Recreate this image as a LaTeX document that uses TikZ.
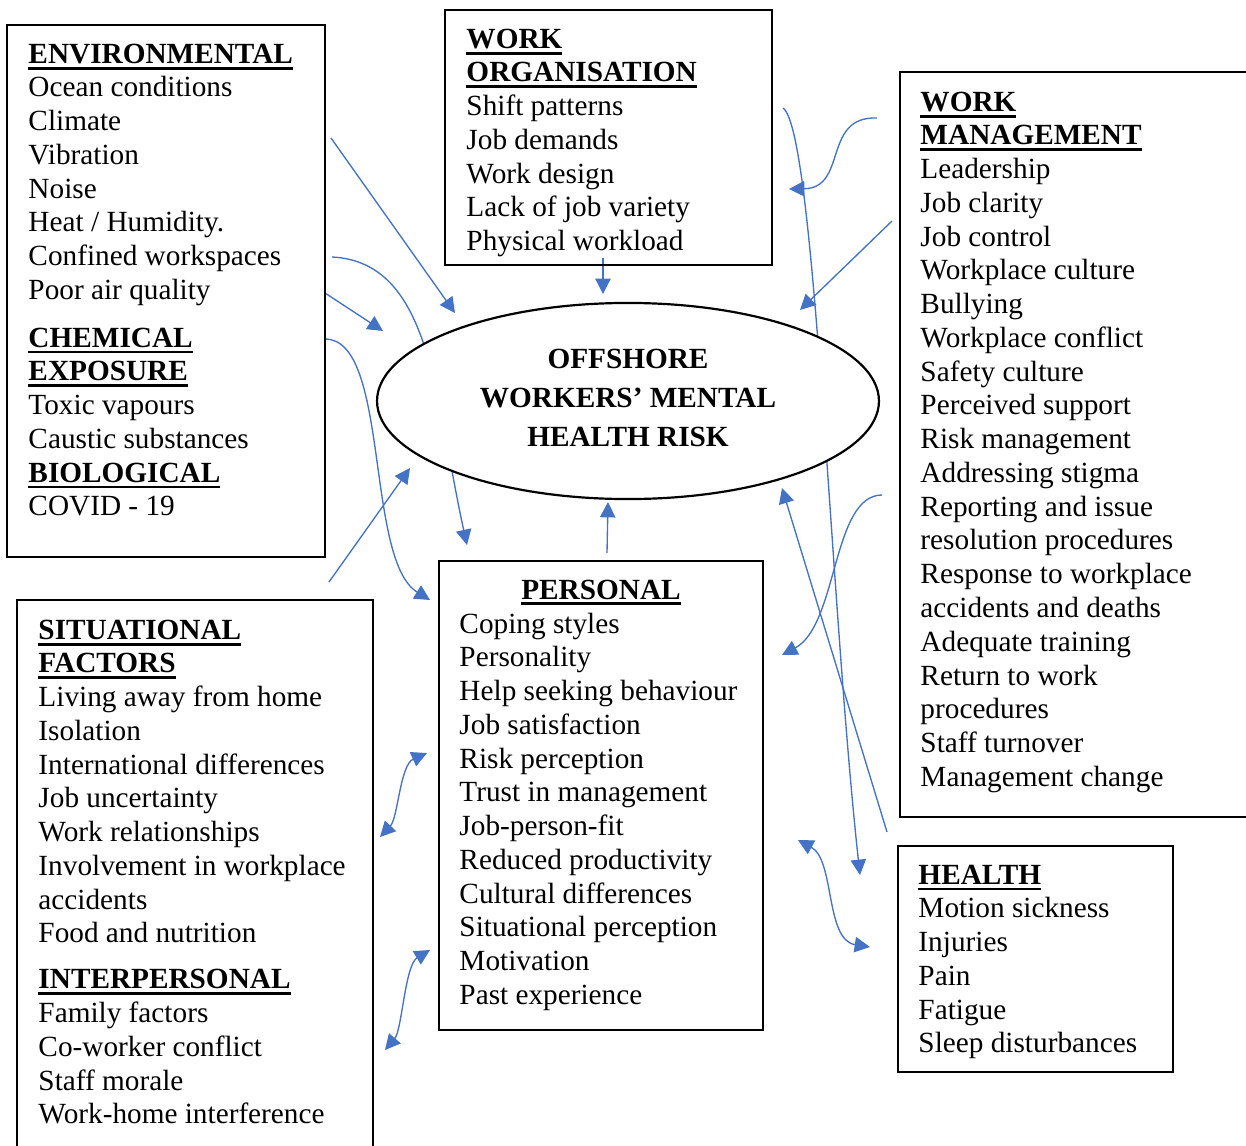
\documentclass[tikz,border=0pt]{standalone}
\usepackage{fontspec}
\setmainfont{Liberation Serif}
\usepackage{tikz}
\usetikzlibrary{arrows.meta}
\usetikzlibrary{shapes.geometric}
\usetikzlibrary{fit}
\usetikzlibrary{backgrounds}
\definecolor{linkblue}{HTML}{4472C4}
\newsavebox{\headbox}
\newcommand{\factorhead}[1]{\sbox{\headbox}{\textbf{#1}}%
  \rlap{\rule[-2.6pt]{\wd\headbox}{1.2pt}}\usebox{\headbox}}
\tikzset{
  factorbox/.style = {rectangle, draw=black, line width=0.8pt, inner sep=0pt},% box round a group
  factortext/.style = {align=left, inner sep=0pt, anchor=north west,
    font=\fontsize{12}{13.84}\selectfont},% list of factors
  riskellipse/.style = {ellipse, draw=black, line width=0.9pt, fill=white,
    inner sep=0pt, minimum width=205.8pt, minimum height=80.4pt, align=center,
    font=\bfseries\fontsize{12}{15.8}\selectfont},% the centre
  link/.style = {linkblue, line width=0.55pt, -{Triangle[length=6.3pt,width=6.3pt]}},
  twolink/.style = {link, {Triangle[length=6.3pt,width=6.3pt]}-{Triangle[length=6.3pt,width=6.3pt]}}
}

\begin{document}
\begin{tikzpicture}[x=0.41pt,y=-0.41pt]
\useasboundingbox (0,0) rectangle (1246,1146);

% boxes
\node [factorbox, fit={(7,25) (325,557)}] (env) {};
\node [factorbox, fit={(445,10) (772,265)}] (worg) {};
\node [factorbox, fit={(900,72) (1248,817)}] (wman) {};
\node [factorbox, fit={(439,561) (763,1030)}] (pers) {};
\node [factorbox, fit={(17,600) (373,1160)}] (sit) {};
\node [factorbox, fit={(898,846) (1173,1072)}] (health) {};
\node [riskellipse] (risk) at (628,401) {OFFSHORE\\WORKERS’ MENTAL\\HEALTH RISK\vphantom{g}};

% texts
\node [factortext] (envtext) at (28,43.3) {\factorhead{ENVIRONMENTAL}\\
  Ocean conditions\\ Climate\\ Vibration\\ Noise\\ Heat / Humidity.\\
  Confined workspaces\\ Poor air quality\\[5.7pt]
  \factorhead{CHEMICAL}\\ \factorhead{EXPOSURE}\\
  Toxic vapours\\ Caustic substances\\
  \factorhead{BIOLOGICAL}\\ COVID - 19};
\node [factortext] (worgtext) at (466,28.3) {\factorhead{WORK}\\
  \factorhead{ORGANISATION}\\
  Shift patterns\\ Job demands\\ Work design\\ Lack of job variety\\
  Physical workload};
\node [factortext] (wmantext) at (920,91.3) {\factorhead{WORK}\\
  \factorhead{MANAGEMENT}\\
  Leadership\\ Job clarity\\ Job control\\ Workplace culture\\ Bullying\\
  Workplace conflict\\ Safety culture\\ Perceived support\\
  Risk management\\ Addressing stigma\\ Reporting and issue\\
  resolution procedures\\ Response to workplace\\ accidents and deaths\\
  Adequate training\\ Return to work\\ procedures\\ Staff turnover\\
  Management change};
\node [factortext, anchor=base] (pershead) at (601,599) {\factorhead{PERSONAL}};
\node [factortext] (perstext) at (459,612.2) {Coping styles\\ Personality\\
  Help seeking behaviour\\ Job satisfaction\\ Risk perception\\
  Trust in management\\ Job-person-fit\\ Reduced productivity\\
  Cultural differences\\ Situational perception\\ Motivation\\
  Past experience};
\node [factortext] (sittext) at (38,619.3) {\factorhead{SITUATIONAL}\\
  \factorhead{FACTORS}\\
  Living away from home\\ Isolation\\ International differences\\
  Job uncertainty\\ Work relationships\\ Involvement in workplace\\
  accidents\\ Food and nutrition\\[5pt]
  \factorhead{INTERPERSONAL}\\
  Family factors\\ Co-worker conflict\\ Staff morale\\
  Work-home interference};
\node [factortext] (healthtext) at (918,864.3) {\factorhead{HEALTH}\\
  Motion sickness\\ Injuries\\ Pain\\ Fatigue\\ Sleep disturbances};

% ends of the links
\coordinate (envA) at (331,138);   \coordinate (riskA) at (455,313);
\coordinate (envB) at (332,257);   \coordinate (persA) at (467,545);
\coordinate (envC) at (325,293);   \coordinate (riskB) at (383,331);
\coordinate (envD) at (325,339);   \coordinate (persB) at (430,600);
\coordinate (sitA) at (329,582);   \coordinate (riskC) at (410,468);
\coordinate (worgA) at (603,258);  \coordinate (riskD) at (603,294);
\coordinate (persC) at (607,553);  \coordinate (riskE) at (608,502);
\coordinate (worgB) at (783,108);  \coordinate (healthA) at (860,875);
\coordinate (wmanA) at (877,118);  \coordinate (worgC) at (789,189);
\coordinate (wmanB) at (892,221);  \coordinate (riskF) at (800,310);
\coordinate (wmanC) at (887,832);  \coordinate (riskG) at (782,488);
\coordinate (wmanD) at (882,495);  \coordinate (persD) at (782,655);
\coordinate (persE) at (798,840);  \coordinate (healthB) at (870,947);
\coordinate (persF) at (427,753);  \coordinate (sitB) at (380,837);
\coordinate (persG) at (430,950);  \coordinate (sitC) at (385,1050);

\begin{pgfonlayer}{background}
\draw [link] (envA) -- (riskA);
\draw [link] (envB) .. controls (432,262) and (435,400) .. (persA);
\draw [link] (envC) -- (riskB);
\draw [link] (envD) .. controls (390,339) and (365,560) .. (persB);
\draw [link] (sitA) -- (riskC);
\draw [link] (worgA) -- (riskD);
\draw [link] (persC) -- (riskE);
\draw [link] (worgB) .. controls (815,130) and (830,600) .. (healthA);
\draw [link] (wmanA) .. controls (822,116) and (848,188) .. (worgC);
\draw [link] (wmanB) -- (riskF);
\draw [link] (wmanC) -- (riskG);
\draw [link] (wmanD) .. controls (832,495) and (838,625) .. (persD);
\draw [twolink] (persE) .. controls (835,860) and (825,940) .. (healthB);
\draw [twolink] (persF) .. controls (400,765) and (398,818) .. (sitB);
\draw [twolink] (persG) .. controls (405,965) and (402,1030) .. (sitC);
\end{pgfonlayer}
\end{tikzpicture}
\end{document}
